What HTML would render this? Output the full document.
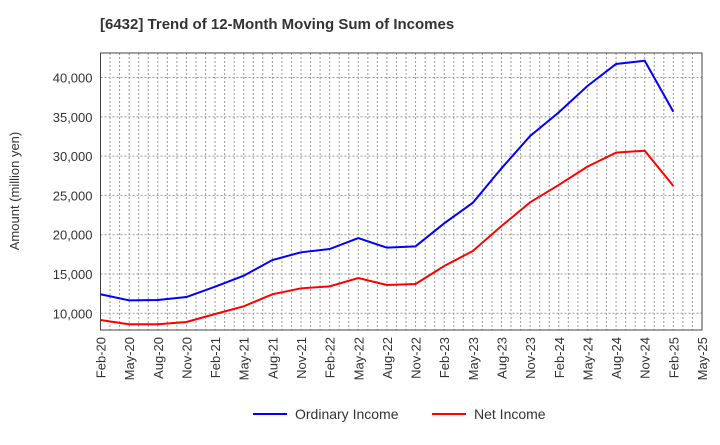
<!DOCTYPE html>
<html><head><meta charset="utf-8"><style>
body{margin:0;background:#fff;font-family:"Liberation Sans",sans-serif}
</style></head><body>
<svg id="c" width="720" height="440" xmlns="http://www.w3.org/2000/svg">
<text x="100" y="29" font-size="15" font-weight="bold" fill="#333">[6432]  Trend of 12-Month Moving Sum of Incomes</text>
<text transform="translate(19,191) rotate(-90)" text-anchor="middle" font-size="13" fill="#333">Amount (million yen)</text>
<g id="grid"></g><g id="axes"></g><g id="series"></g>
<g>
<line x1="253" y1="414" x2="287" y2="414" stroke="#0000ff" stroke-width="2"/>
<text x="295" y="419" font-size="14" fill="#333">Ordinary Income</text>
<line x1="432" y1="414" x2="466" y2="414" stroke="#ff0000" stroke-width="2"/>
<text x="474" y="419" font-size="14" fill="#333">Net Income</text>
</g>
</svg>
<script>
const categories=["Feb-20","May-20","Aug-20","Nov-20","Feb-21","May-21","Aug-21","Nov-21","Feb-22","May-22","Aug-22","Nov-22","Feb-23","May-23","Aug-23","Nov-23","Feb-24","May-24","Aug-24","Nov-24","Feb-25","May-25"];
const ordinaryIncome=[12420,11650,11700,12070,13380,14780,16780,17760,18180,19580,18350,18520,21450,24070,28450,32560,35570,38920,41720,42140,35650];
const netIncome=[9150,8600,8600,8890,9910,10890,12420,13180,13430,14490,13600,13730,16020,17930,21110,24120,26330,28660,30440,30690,26200];
const yTicks=[10000,15000,20000,25000,30000,35000,40000];
const L=100.5,R=702,T=53,B=330,yMin=7875,yMax=43120;
const NS="http://www.w3.org/2000/svg";
const xs=i=>L+(R-L)*i/(categories.length-1);
const ys=v=>B-(v-yMin)/(yMax-yMin)*(B-T);
function mk(tag,attrs,parent){const e=document.createElementNS(NS,tag);for(const k in attrs)e.setAttribute(k,attrs[k]);parent.appendChild(e);return e;}
const grid=document.getElementById('grid'),axes=document.getElementById('axes'),series=document.getElementById('series');
for(let m=1;m<(categories.length-1)*3;m++){const x=L+(R-L)*m/((categories.length-1)*3);
const g=mk('line',{x1:x,x2:x,y1:T,y2:B,stroke:'#999','stroke-dasharray':'2,2','stroke-width':1},grid);

}
yTicks.forEach(v=>{const y=ys(v);
const g=mk('line',{x1:L,x2:R,y1:y,y2:y,stroke:'#999','stroke-dasharray':'2,2','stroke-width':1},grid);


const t=mk('text',{x:L-8,y:y+5,'text-anchor':'end','font-size':13,fill:'#333'},axes);t.textContent=v.toLocaleString('en-US');

});
categories.forEach((c,i)=>{const x=xs(i);
const t=mk('text',{transform:`translate(${x+5},${B+7}) rotate(-90)`,'text-anchor':'end','font-size':13,fill:'#333'},axes);t.textContent=c;

});
const fr=mk('rect',{x:L,y:T,width:R-L,height:B-T,fill:'none',stroke:'#444','stroke-width':1},axes);


[[ordinaryIncome,'#0000ff','ordinary-income-line'],[netIncome,'#ff0000','net-income-line']].forEach(([d,col,n])=>{
const p=mk('polyline',{points:d.map((v,i)=>xs(i)+','+ys(v)).join(' '),fill:'none',stroke:col,'stroke-width':2},series);

});
</script>
</body></html>
